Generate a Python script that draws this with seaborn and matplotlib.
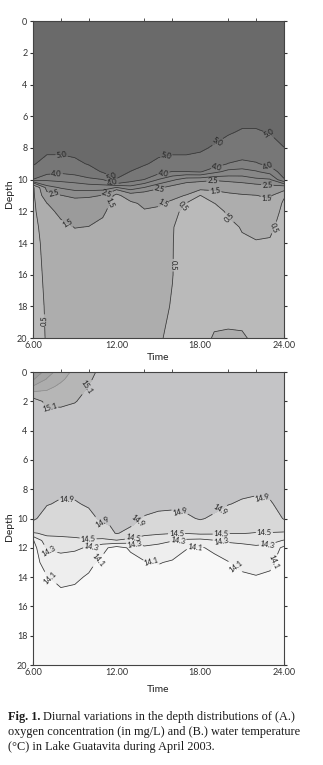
import numpy as np
import pandas as pd
import matplotlib
matplotlib.use("Agg")
import matplotlib.pyplot as plt
import seaborn as sns

# sampling times (hours of the day)
times = [6, 7, 8, 9, 10, 11, 12, 13, 14, 15, 16, 17, 18, 19, 20, 21, 22, 23, 24]

# (A.) oxygen (mg/L), one profile per time, values at these depths (m)
oxygen_depths = [0, 6, 7, 8, 9, 9.5, 10, 10.5, 11, 11.5, 12, 13, 14, 16, 18, 20]
oxygen_profiles = [
    [5.8, 5.8, 5.7, 5.5, 5.1, 4.62, 3.98, 0.3, 0.3, 0.3, 0.3, 0.3, 0.3, 0.3, 0.3, 0.3],
    [5.8, 5.8, 5.6, 5.3, 4.6, 4.2, 3.6, 2.8, 2.2, 1.48, 1.2, 0.8, 0.68, 0.6, 0.55, 0.53],
    [5.8, 5.8, 5.6, 5.3, 4.6, 4.1, 3.65, 3.05, 2.48, 2.1, 1.75, 1.25, 1.0, 0.9, 0.85, 0.8],
    [5.8, 5.8, 5.7, 5.4, 4.75, 4.2, 3.7, 3.2, 2.65, 2.2, 1.95, 1.52, 1.2, 0.95, 0.9, 0.85],
    [5.8, 5.8, 5.75, 5.5, 5.08, 4.5, 3.85, 3.25, 2.6, 2.2, 1.9, 1.48, 1.2, 1.0, 0.9, 0.85],
    [5.8, 5.8, 5.8, 5.7, 5.4, 5.1, 3.98, 3.25, 2.48, 2.0, 1.7, 1.2, 1.0, 0.9, 0.85, 0.8],
    [5.8, 5.8, 5.8, 5.75, 5.5, 5.3, 4.95, 2.98, 1.2, 1.0, 0.9, 0.85, 0.8, 0.75, 0.72, 0.7],
    [5.8, 5.8, 5.8, 5.7, 5.3, 4.98, 4.25, 3.3, 2.2, 1.25, 1.0, 0.85, 0.8, 0.75, 0.72, 0.7],
    [5.8, 5.8, 5.75, 5.5, 5.1, 4.6, 3.98, 2.98, 2.1, 1.75, 1.4, 1.0, 0.85, 0.75, 0.7, 0.65],
    [5.8, 5.8, 5.7, 5.4, 4.75, 4.2, 3.48, 2.6, 2.0, 1.6, 1.35, 1.0, 0.85, 0.75, 0.7, 0.6],
    [5.8, 5.8, 5.7, 5.35, 4.55, 3.98, 3.1, 2.3, 1.75, 1.3, 0.8, 0.55, 0.53, 0.52, 0.45, 0.3],
    [5.8, 5.8, 5.7, 5.35, 4.55, 3.98, 2.75, 2.1, 1.45, 0.45, 0.2, 0.1, 0.1, 0.1, 0.12, 0.2],
    [5.8, 5.8, 5.6, 5.2, 4.45, 4.05, 2.7, 1.9, 0.48, 0.2, 0.1, 0.1, 0.1, 0.1, 0.12, 0.3],
    [5.8, 5.75, 5.45, 4.85, 4.3, 3.65, 2.6, 1.75, 1.1, 0.48, 0.25, 0.15, 0.12, 0.12, 0.3, 0.55],
    [5.8, 5.5, 5.1, 4.6, 3.98, 3.35, 2.7, 1.9, 1.3, 0.9, 0.6, 0.3, 0.2, 0.15, 0.3, 0.58],
    [5.8, 5.35, 4.9, 4.45, 3.85, 3.3, 2.75, 2.1, 1.4, 1.1, 0.9, 0.55, 0.4, 0.25, 0.3, 0.56],
    [5.8, 5.35, 4.9, 4.45, 3.95, 3.45, 2.9, 2.2, 1.48, 1.2, 1.0, 0.7, 0.45, 0.3, 0.25, 0.4],
    [5.8, 5.45, 5.05, 4.6, 4.15, 3.7, 2.95, 2.3, 1.65, 1.3, 1.05, 0.65, 0.42, 0.3, 0.25, 0.3],
    [5.8, 5.6, 5.35, 4.98, 4.5, 4.25, 3.95, 2.1, 0.6, 0.35, 0.25, 0.2, 0.2, 0.2, 0.2, 0.25],
]

# (B.) water temperature (deg C), one profile per time
temp_depths = [0, 0.5, 1, 1.5, 2, 3, 6, 8, 9, 10, 10.5, 11, 11.5, 12, 13, 14, 15, 20]
temp_profiles = [
    [15.9, 15.72, 15.48, 15.22, 15.0, 15.0, 15.0, 15.0, 14.98, 14.96, 14.75, 14.48, 14.08, 14.02, 14.0, 14.0, 13.98, 13.95],
    [15.6, 15.48, 15.35, 15.25, 15.15, 15.02, 15.0, 15.0, 14.92, 14.75, 14.65, 14.54, 14.43, 14.32, 14.2, 14.09, 14.04, 13.95],
    [15.4, 15.33, 15.26, 15.2, 15.14, 15.04, 15.0, 14.97, 14.86, 14.72, 14.64, 14.55, 14.44, 14.34, 14.23, 14.15, 14.08, 13.95],
    [15.25, 15.22, 15.19, 15.15, 15.11, 15.02, 15.0, 14.98, 14.87, 14.72, 14.63, 14.57, 14.45, 14.33, 14.2, 14.13, 14.07, 13.95],
    [15.15, 15.12, 15.09, 15.06, 15.04, 15.0, 15.0, 15.0, 14.94, 14.8, 14.7, 14.62, 14.47, 14.28, 14.15, 14.08, 14.03, 13.95],
    [15.05, 15.04, 15.03, 15.02, 15.01, 15.0, 15.0, 15.0, 15.0, 14.97, 14.82, 14.65, 14.45, 14.15, 14.05, 14.02, 14.0, 13.95],
    [15.0, 15.0, 15.0, 15.0, 15.0, 15.0, 15.0, 15.0, 15.0, 15.0, 14.97, 14.93, 14.48, 14.02, 14.0, 14.0, 13.98, 13.95],
    [15.0, 15.0, 15.0, 15.0, 15.0, 15.0, 15.0, 15.0, 15.0, 14.97, 14.92, 14.76, 14.4, 14.13, 14.03, 14.0, 14.0, 13.95],
    [15.0, 15.0, 15.0, 15.0, 15.0, 15.0, 15.0, 15.0, 14.98, 14.88, 14.72, 14.54, 14.42, 14.26, 14.08, 14.03, 14.0, 13.95],
    [15.0, 15.0, 15.0, 15.0, 15.0, 15.0, 15.0, 15.0, 14.95, 14.85, 14.7, 14.52, 14.4, 14.2, 14.11, 14.04, 14.01, 13.95],
    [15.0, 15.0, 15.0, 15.0, 15.0, 15.0, 15.0, 15.0, 14.95, 14.83, 14.68, 14.51, 14.31, 14.2, 14.08, 14.03, 14.0, 13.95],
    [15.0, 15.0, 15.0, 15.0, 15.0, 15.0, 15.0, 15.0, 14.97, 14.86, 14.7, 14.51, 14.26, 14.11, 14.03, 14.0, 14.0, 13.95],
    [15.0, 15.0, 15.0, 15.0, 15.0, 15.0, 15.0, 15.0, 15.0, 14.92, 14.8, 14.54, 14.24, 14.08, 14.03, 14.0, 14.0, 13.95],
    [15.0, 15.0, 15.0, 15.0, 15.0, 15.0, 15.0, 15.0, 14.97, 14.86, 14.7, 14.53, 14.29, 14.14, 14.04, 14.0, 14.0, 13.95],
    [15.0, 15.0, 15.0, 15.0, 15.0, 15.0, 15.0, 15.0, 14.91, 14.78, 14.66, 14.51, 14.33, 14.22, 14.09, 14.05, 14.02, 13.95],
    [15.0, 15.0, 15.0, 15.0, 15.0, 15.0, 15.0, 14.96, 14.87, 14.73, 14.62, 14.51, 14.34, 14.25, 14.15, 14.07, 14.03, 13.95],
    [15.0, 15.0, 15.0, 15.0, 15.0, 15.0, 15.0, 14.94, 14.85, 14.7, 14.6, 14.49, 14.38, 14.26, 14.17, 14.09, 14.05, 13.95],
    [15.0, 15.0, 15.0, 15.0, 15.0, 15.0, 15.0, 14.97, 14.87, 14.72, 14.6, 14.49, 14.36, 14.24, 14.14, 14.07, 14.03, 13.95],
    [15.0, 15.0, 15.0, 15.0, 15.0, 15.0, 15.0, 15.0, 15.0, 14.92, 14.75, 14.45, 14.29, 14.05, 14.0, 14.0, 14.0, 13.95],
]

time_ticks = [6, 12, 18, 24]
time_labels = ["6.00", "12.00", "18.00", "24.00"]
depth_ticks = list(range(0, 21, 2))

o2_fill_levels = [0, 0.5, 1.5, 2.5, 3.0, 3.5, 4.0, 5.0, 6.0]
o2_fill_colors = ["#bababa", "#adadad", "#9b9b9b", "#8d8d8d", "#878787", "#818181", "#777777", "#6a6a6a"]
o2_label_levels = [0.5, 1.5, 2.5, 4.0, 5.0]
o2_plain_levels = [3.0, 3.5]

t_fill_levels = [13.9, 14.1, 14.3, 14.5, 14.9, 15.1, 15.3, 15.5, 15.7, 16.0]
t_fill_colors = ["#f8f8f8", "#eeeeee", "#e4e4e4", "#d8d8d8", "#c4c4c6", "#b6b6b6", "#adadad", "#a5a5a5", "#9d9d9d"]
t_label_levels = [14.1, 14.3, 14.5, 14.9, 15.1]
t_plain_levels = [15.3, 15.5, 15.7]

sns.set_style("ticks")
plt.rcParams["font.family"] = ["Lato", "DejaVu Sans"]

line_col = "#363636"


def grid(profiles, depths):
    df = pd.DataFrame(profiles, index=times, columns=depths).T
    return df.columns.values, df.index.values, df.values


def style_axes(ax):
    ax.set_xlim(6, 24)
    ax.set_ylim(20, 0)
    ax.set_xticks(time_ticks)
    ax.set_xticklabels(time_labels)
    ax.set_xticks(np.arange(6, 25, 2), minor=True)
    ax.set_yticks(depth_ticks)
    ax.tick_params(axis="x", which="major", direction="in", length=3, labelsize=6.5, pad=2, colors="#333333")
    ax.tick_params(axis="x", which="minor", bottom=False, top=True, direction="out", length=2.5, color="#333333")
    ax.tick_params(axis="y", which="major", left=True, right=True, direction="out", length=2.5, labelsize=6.5, pad=1.5, colors="#333333")
    for s in ax.spines.values():
        s.set_linewidth(0.8)
        s.set_color("#444444")
    ax.set_xlabel("Time", fontsize=7.5, labelpad=1, color="#222222")
    ax.set_ylabel("Depth", fontsize=7.5, labelpad=1, color="#222222")


fig = plt.figure(figsize=(3.23, 7.65), dpi=100)
ax1 = fig.add_axes([0.102, 0.558, 0.777, 0.4144])
ax2 = fig.add_axes([0.102, 0.1307, 0.777, 0.383])

# (A.) oxygen
x, y, z = grid(oxygen_profiles, oxygen_depths)
ax1.contourf(x, y, z, levels=o2_fill_levels, colors=o2_fill_colors)
ax1.contour(x, y, z, levels=o2_plain_levels, colors=line_col, linewidths=0.55)
cs1 = ax1.contour(x, y, z, levels=o2_label_levels, colors=line_col, linewidths=0.55)
o2_label_pos = [(8.05, 8.5), (11.65, 9.8), (15.6, 8.7), (19.3, 7.7), (22.9, 7.2),
                (7.7, 9.65), (11.7, 10.2), (15.35, 9.55), (19.2, 9.2), (22.8, 9.4),
                (7.5, 10.87), (11.3, 10.87), (15.1, 10.7), (18.9, 10.24), (22.8, 10.45),
                (8.3, 13.0), (11.65, 11.5), (15.35, 11.5), (19.05, 10.77), (22.8, 11.08),
                (16.9, 11.8), (20.0, 12.45), (23.0, 12.9), (16.06, 15.4), (6.74, 18.9)]
ax1.clabel(cs1, fmt="%.1f", fontsize=5.5, inline=True, inline_spacing=1,
           manual=o2_label_pos, colors="#1e1e1e")
style_axes(ax1)
ax1.yaxis.set_label_coords(-0.075, 0.457)
ax1.xaxis.set_label_coords(0.5, -0.048)

# (B.) temperature
x, y, z = grid(temp_profiles, temp_depths)
ax2.contourf(x, y, z, levels=t_fill_levels, colors=t_fill_colors)
ax2.contour(x, y, z, levels=t_plain_levels, colors="#8a8a8a", linewidths=0.5)
cs2 = ax2.contour(x, y, z, levels=t_label_levels, colors=line_col, linewidths=0.55)
t_label_pos = [(7.2, 2.37), (9.97, 1.1),
               (8.4, 8.74), (10.9, 10.33), (13.55, 10.2), (16.5, 9.65), (19.4, 9.42), (22.4, 8.74),
               (9.97, 11.24), (13.2, 11.35), (16.3, 11.0), (19.5, 11.0), (22.6, 11.0),
               (7.2, 12.0), (10.2, 11.9), (13.3, 11.7), (16.4, 11.5), (19.5, 11.5), (22.8, 11.6),
               (7.1, 14.2), (10.8, 12.95), (14.5, 13.0), (17.6, 11.8), (20.5, 13.3), (23.1, 12.9)]
ax2.clabel(cs2, fmt="%.1f", fontsize=5.5, inline=True, inline_spacing=1,
           manual=t_label_pos, colors="#1e1e1e")
style_axes(ax2)
ax2.yaxis.set_label_coords(-0.075, 0.471)
ax2.xaxis.set_label_coords(0.5, -0.068)

# caption
cap_x = 8 / 323
cap_size = 8.8
fig.canvas.draw()
r = fig.canvas.get_renderer()
t_bold = fig.text(cap_x, 1 - 720 / 765, "Fig. 1.", fontsize=cap_size, fontweight="bold",
                  family="Liberation Serif", color="#1a1a1a")
bb = t_bold.get_window_extent(renderer=r)
fig.text(bb.x1 / fig.bbox.width + 0.008, 1 - 720 / 765,
         "Diurnal variations in the depth distributions of (A.)",
         fontsize=cap_size, family="Liberation Serif", color="#1a1a1a")
fig.text(cap_x, 1 - 735 / 765, "oxygen concentration (in mg/L) and (B.) water temperature",
         fontsize=cap_size, family="Liberation Serif", color="#1a1a1a")
fig.text(cap_x, 1 - 750 / 765, "(\u00b0C) in Lake Guatavita during April 2003.",
         fontsize=cap_size, family="Liberation Serif", color="#1a1a1a")

fig.savefig("out.png", dpi=100)
